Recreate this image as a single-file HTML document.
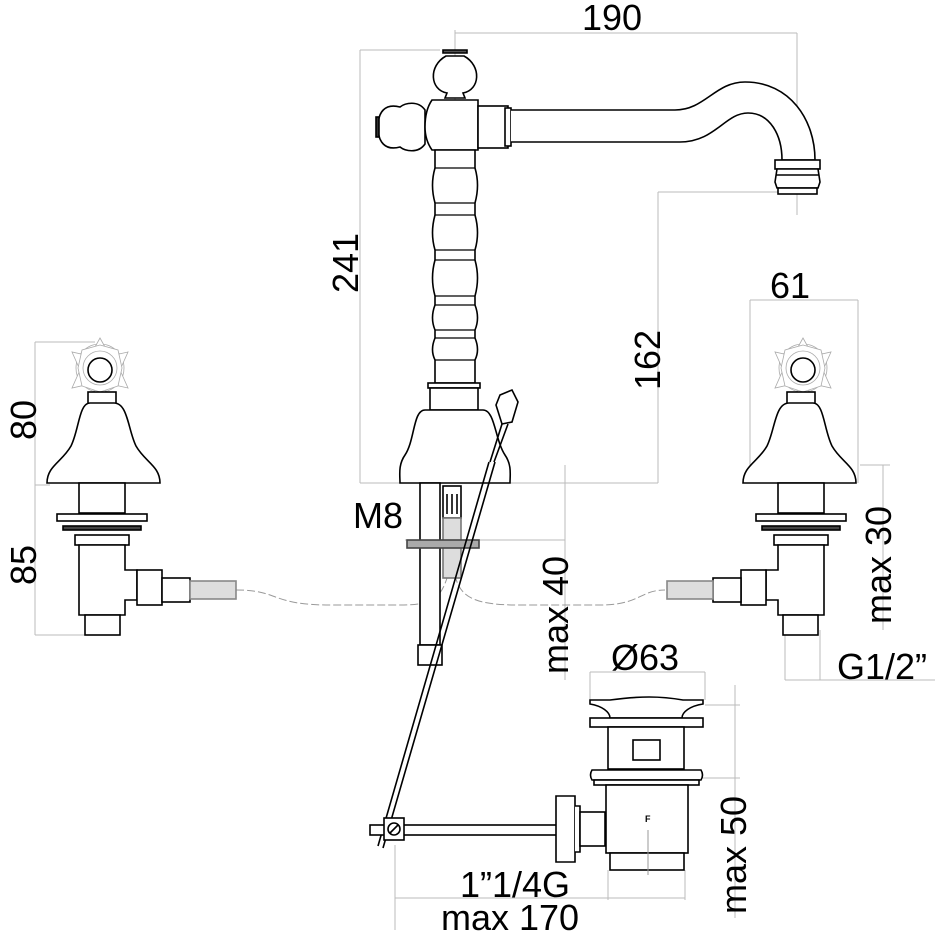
<!DOCTYPE html>
<html><head><style>
html,body{margin:0;padding:0;background:#fff}
svg{display:block}
text{font-family:"Liberation Sans",sans-serif;fill:#000}
</style></head><body>
<svg width="936" height="936" viewBox="0 0 936 936" xmlns="http://www.w3.org/2000/svg">
<g fill="none" stroke="#bbb" stroke-width="1">
<line x1="455" y1="33" x2="797" y2="33"/><line x1="797" y1="33" x2="797" y2="215"/><line x1="455" y1="30" x2="455" y2="130"/>
<line x1="360" y1="50" x2="360" y2="483"/><line x1="360" y1="50" x2="440" y2="50"/><line x1="360" y1="483" x2="658" y2="483"/>
<line x1="658" y1="192" x2="658" y2="483"/><line x1="658" y1="192" x2="780" y2="192"/>
<line x1="750" y1="300" x2="858" y2="300"/><line x1="750" y1="300" x2="750" y2="483"/><line x1="858" y1="300" x2="858" y2="483"/>
<line x1="883" y1="465" x2="883" y2="630"/><line x1="860" y1="465" x2="890" y2="465"/>
<line x1="785" y1="680" x2="935" y2="680"/><line x1="785" y1="630" x2="785" y2="680"/><line x1="820" y1="630" x2="820" y2="680"/>
<line x1="35" y1="342" x2="35" y2="635"/><line x1="35" y1="342" x2="95" y2="342"/><line x1="35" y1="485" x2="50" y2="485"/><line x1="35" y1="635" x2="85" y2="635"/>
<line x1="565" y1="465" x2="565" y2="680"/><line x1="405" y1="540" x2="565" y2="540"/>
<line x1="590" y1="672" x2="705" y2="672"/><line x1="590" y1="672" x2="590" y2="700"/><line x1="705" y1="672" x2="705" y2="700"/>
<line x1="735" y1="685" x2="735" y2="918"/><line x1="705" y1="705" x2="740" y2="705"/><line x1="690" y1="778" x2="740" y2="778"/>
<line x1="395" y1="898" x2="685" y2="898"/><line x1="395" y1="845" x2="395" y2="930"/><line x1="608" y1="870" x2="608" y2="900"/><line x1="685" y1="870" x2="685" y2="900"/>
<path d="M236,590 C280,590 270,605 330,605 L400,605 C430,605 440,600 447,578" stroke="#999" stroke-dasharray="8,3"/>
<path d="M455,575 C460,600 480,605 520,605 L600,605 C640,605 640,590 665,590" stroke="#999" stroke-dasharray="8,3"/>
</g>

<g fill="#fff" stroke="#000" stroke-width="1.6">
<path d="M443,53 L467,53 L467,50 L443,50 Z" fill="#555"/>
<path d="M446,56 C428,66 430,90 447,93 L445,98 L465,98 L463,93 C480,90 482,66 464,56 Z"/>
<path d="M425,110 C418,100 405,103 400,107 C385,103 378,112 378,127 C378,142 385,151 400,147 C405,151 418,154 425,144 Z"/>
<rect x="376" y="117" width="3" height="20" fill="#333"/>
<path d="M432,100 L478,100 L478,150 L432,150 Q425,140 425,127 Q425,110 432,100 Z"/>
<rect x="478" y="106" width="30" height="42"/>
<rect x="505" y="108" width="6" height="38"/>
<path d="M511,110 L675,110 C705,110 715,82 745,82 C790,82 815,120 815,160 L782,160 C782,135 770,113 748,113 C725,113 715,142 680,142 L511,142"/>
<rect x="775" y="160" width="45" height="9"/><path d="M777,169 L818,169 L820,182 L818,188 L777,188 L775,182 Z"/><rect x="778" y="188" width="39" height="6"/>
<line x1="776" y1="175" x2="819" y2="175"/>
<path d="M435,150 L475,150 L475,168 Q480,185 475,203 L475,215 Q480,233 475,250 L475,260 Q480,278 475,296 L475,305 Q480,318 475,330 L475,338 Q480,350 475,360 L475,383 L435,383 L435,360 Q430,350 435,338 L435,330 Q430,318 435,305 L435,296 Q430,278 435,260 L435,250 Q430,233 435,215 L435,203 Q430,185 435,168 Z"/>
<g stroke-width="1.3">
<line x1="435" y1="168" x2="475" y2="168"/><line x1="435" y1="203" x2="475" y2="203"/><line x1="435" y1="215" x2="475" y2="215"/>
<line x1="435" y1="250" x2="475" y2="250"/><line x1="435" y1="260" x2="475" y2="260"/>
<line x1="435" y1="296" x2="475" y2="296"/><line x1="435" y1="305" x2="475" y2="305"/>
<line x1="435" y1="330" x2="475" y2="330"/><line x1="435" y1="338" x2="475" y2="338"/>
<line x1="435" y1="360" x2="475" y2="360"/></g>
<rect x="428" y="383" width="52" height="5"/><rect x="430" y="388" width="48" height="22"/>
<path d="M425,410 L483,410 C495,410 495,440 505,455 C512,465 510,475 510,483 L400,483 C400,475 398,465 405,455 C415,440 413,410 425,410 Z"/>
<path d="M500,395 L512,390 L518,402 L512,422 L502,424 L496,405 Z"/>
<path d="M502,424 L490,462 M508,424 L494,462"/>
<rect x="420" y="483" width="20" height="162"/><rect x="418" y="645" width="24" height="20"/>
<rect x="443" y="486" width="18" height="32"/><line x1="447" y1="494" x2="447" y2="514"/><line x1="452" y1="494" x2="452" y2="514"/><line x1="457" y1="494" x2="457" y2="514"/>
<rect x="443" y="518" width="18" height="60" fill="#ddd" stroke="#777"/>
<rect x="407" y="540" width="72" height="8" fill="#aaa" stroke="#444"/>
<path d="M495,462 L383,848 M489,462 L378,846"/>
<rect x="370" y="825" width="190" height="10"/>
<rect x="384" y="818" width="20" height="22"/><circle cx="394" cy="829" r="6"/><line x1="390" y1="833" x2="398" y2="825"/>
<path d="M556,796 L575,796 L575,862 L556,862 Z"/><path d="M575,806 L580,806 L580,852 L575,852"/>
<rect x="580" y="812" width="25" height="34"/>
<path d="M610,700 C640,696 660,696 683,700 L703,700 L703,704 C690,706 682,712 682,718 L610,718 C610,712 602,706 590,704 L590,700 Z"/>
<rect x="590" y="718" width="113" height="9"/>
<rect x="608" y="727" width="76" height="42"/><rect x="633" y="740" width="27" height="20"/>
<path d="M592,770 L701,770 Q704,775 701,780 L592,780 Q589,775 592,770 Z"/><rect x="594" y="780" width="105" height="5"/>
<rect x="606" y="785" width="82" height="68"/><rect x="610" y="853" width="74" height="17"/>
</g>
<text x="645" y="822" font-size="9" font-weight="bold">F</text>
<line x1="648" y1="830" x2="648" y2="875" stroke="#999"/>

<g id="valve" fill="#fff" stroke="#000" stroke-width="1.6">
<g stroke="#aaa" stroke-width="0.8"><circle cx="100" cy="368" r="24"/><polygon points="100,338 110,356 128,352 120,370 128,388 110,384 100,400 90,384 72,388 80,370 72,352 90,356"/><polygon points="100,345 118,350 122,368 118,386 100,392 82,386 78,368 82,350"/><circle cx="100" cy="368" r="17"/></g>
<circle cx="100" cy="370" r="12"/>
<rect x="88" y="392" width="28" height="12"/>
<path d="M90,403 L114,403 C128,403 128,430 136,446 C145,462 160,466 160,483 L47,483 C47,466 62,462 71,446 C79,430 79,403 90,403 Z"/>
<rect x="79" y="483" width="46" height="30"/>
<rect x="57" y="514" width="90" height="7"/><rect x="63" y="526" width="78" height="4" fill="#444"/>
<rect x="75" y="535" width="54" height="10"/>
<path d="M79,545 L125,545 L125,570 L137,570 L137,600 L125,600 L125,615 L79,615 Z"/>
<rect x="137" y="570" width="25" height="35"/>
<rect x="162" y="578" width="28" height="24"/>
<rect x="190" y="581" width="46" height="18" fill="#ddd" stroke="#888"/>
<rect x="85" y="615" width="35" height="20"/>
</g>
<use href="#valve" transform="translate(903,0) scale(-1,1)"/>

<g font-size="36">
<text x="612" y="30" text-anchor="middle">190</text>
<text x="790" y="298" text-anchor="middle">61</text>
<text transform="translate(358,263) rotate(-90)" text-anchor="middle">241</text>
<text transform="translate(660,360) rotate(-90)" text-anchor="middle">162</text>
<text transform="translate(36,420) rotate(-90)" text-anchor="middle">80</text>
<text transform="translate(36,565) rotate(-90)" text-anchor="middle">85</text>
<text transform="translate(891,565) rotate(-90)" text-anchor="middle">max 30</text>
<text transform="translate(568,615) rotate(-90)" text-anchor="middle">max 40</text>
<text transform="translate(746,855) rotate(-90)" text-anchor="middle">max 50</text>
<text x="378" y="528" text-anchor="middle">M8</text>
<text x="645" y="670" text-anchor="middle">Ø63</text>
<text x="882" y="679" text-anchor="middle">G1/2”</text>
<text x="515" y="897" text-anchor="middle">1”1/4G</text>
<text x="510" y="930" text-anchor="middle">max 170</text>
</g>
</svg>
</body></html>
